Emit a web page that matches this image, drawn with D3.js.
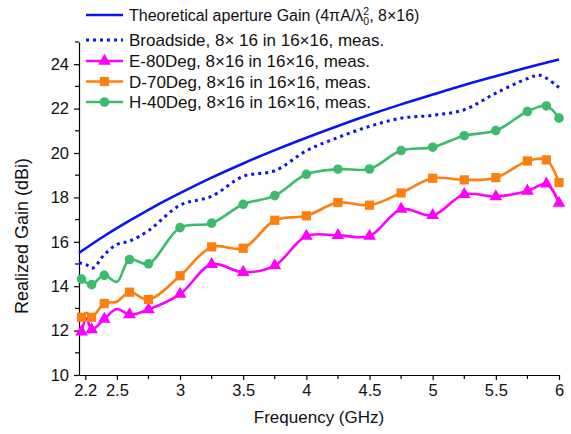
<!DOCTYPE html>
<html>
<head>
<meta charset="utf-8">
<script src="https://cdn.jsdelivr.net/npm/d3@7"></script>
<style>
  html, body { margin: 0; padding: 0; background: #fff; }
  svg { display: block; font-family: Arial, "Liberation Sans", sans-serif; }
</style>
</head>
<body>
<svg id="chart" width="571" height="434"></svg>
<script>
// ---------- data ----------
const theoFreq = [2.2, 2.4, 2.6, 2.8, 3.0, 3.25, 3.5, 3.75, 4.0, 4.25, 4.5, 4.75, 5.0, 5.25, 5.5, 5.75, 6.0];
const theoGain = [15.5, 16.26, 16.95, 17.6, 18.19, 18.89, 19.53, 20.13, 20.69, 21.22, 21.72, 22.19, 22.63, 23.06, 23.46, 23.85, 24.21];

const broadFreq = [2.2, 2.26, 2.31, 2.4, 2.5, 2.6, 2.75, 3.0, 3.25, 3.5, 3.75, 4.0, 4.25, 4.5, 4.75, 5.0, 5.25, 5.5, 5.75, 5.85, 6.0];
const broadGain = [15.06, 14.96, 14.82, 15.42, 15.88, 16.03, 16.5, 17.65, 18.05, 18.95, 19.2, 20.1, 20.7, 21.2, 21.57, 21.7, 21.95, 22.7, 23.35, 23.5, 22.95];

const measFreq = [2.22, 2.26, 2.3, 2.4, 2.5, 2.6, 2.75, 3.0, 3.25, 3.5, 3.75, 4.0, 4.25, 4.5, 4.75, 5.0, 5.25, 5.5, 5.75, 5.9, 6.0];
const markerFreq = [2.22, 2.3, 2.4, 2.6, 2.75, 3.0, 3.25, 3.5, 3.75, 4.0, 4.25, 4.5, 4.75, 5.0, 5.25, 5.5, 5.75, 5.9, 6.0];
const e80Gain = [11.95, 12.55, 12.05, 12.52, 12.97, 12.72, 12.95, 13.64, 14.99, 14.63, 14.93, 16.26, 16.29, 16.26, 17.47, 17.19, 18.14, 18.04, 18.29, 18.61, 17.74];
const d70Gain = [12.6, 12.8, 12.6, 13.22, 13.3, 13.73, 13.4, 14.47, 15.77, 15.71, 16.97, 17.17, 17.77, 17.65, 18.2, 18.86, 18.79, 18.89, 19.64, 19.69, 18.67];
const h40Gain = [14.32, 14.15, 14.07, 14.49, 14.2, 15.2, 15.01, 16.64, 16.84, 17.69, 18.08, 19.04, 19.27, 19.28, 20.11, 20.26, 20.78, 21.01, 21.87, 22.12, 21.57];

const xTickValues = [2.25, 2.5, 3, 3.5, 4, 4.5, 5, 5.5, 6];
const xTickLabels = ["2.2", "2.5", "3", "3.5", "4", "4.5", "5", "5.5", "6"];
const xMinorTicks = [2.75, 3.25, 3.75, 4.25, 4.75, 5.25, 5.75];
const yTickValues = [10, 12, 14, 16, 18, 20, 22, 24];
const yMinorTicks = [11, 13, 15, 17, 19, 21, 23, 25];

const legendLabels = [
  "Theoretical aperture Gain",
  "Broadside, 8\u00d7 16 in 16\u00d716, meas.",
  "E-80Deg, 8\u00d716 in 16\u00d716, meas.",
  "D-70Deg, 8\u00d716 in 16\u00d716, meas.",
  "H-40Deg, 8\u00d716 in 16\u00d716, meas."
];

// ---------- layout ----------
const svg = d3.select("#chart");
const x = d3.scaleLinear().domain([2.2, 6]).range([79, 559]);
const y = d3.scaleLinear().domain([10, 25]).range([375, 42]);

const BLUE = "#0a14f0", MAG = "#ff00ff", ORG = "#ff7f0e", GRN = "#3dbb6c";
const FONT = "Arial, 'Liberation Sans', sans-serif";

// axes
const xAxis = d3.axisBottom(x).tickValues(xTickValues)
  .tickFormat((d, i) => xTickLabels[i]).tickSize(5).tickSizeOuter(0);
const gx = svg.append("g").attr("transform", `translate(0,${y(10)})`).call(xAxis);
gx.selectAll(".tick line").attr("stroke", "#000").attr("stroke-width", 1.2);
gx.selectAll(".tick text").attr("font-size", 16.5).attr("fill", "#111").attr("font-family", FONT).attr("y", 9);
gx.select(".domain").attr("stroke", "#000").attr("stroke-width", 1.2);
gx.selectAll(".minor").data(xMinorTicks).enter().append("line")
  .attr("x1", d => x(d)).attr("x2", d => x(d)).attr("y1", 0).attr("y2", 4)
  .attr("stroke", "#000").attr("stroke-width", 1.2);

const yAxis = d3.axisLeft(y).tickValues(yTickValues).tickFormat(d3.format("d")).tickSize(5).tickSizeOuter(0);
const gy = svg.append("g").attr("transform", `translate(${x(2.2)},0)`).call(yAxis);
gy.selectAll(".tick line").attr("stroke", "#000").attr("stroke-width", 1.2);
gy.selectAll(".tick text").attr("font-size", 16.5).attr("fill", "#111").attr("font-family", FONT).attr("x", -10);
gy.select(".domain").attr("stroke", "#000").attr("stroke-width", 1.2);
gy.selectAll(".minor").data(yMinorTicks).enter().append("line")
  .attr("x1", -4).attr("x2", 0).attr("y1", d => y(d)).attr("y2", d => y(d))
  .attr("stroke", "#000").attr("stroke-width", 1.2);

// axis titles
svg.append("text").attr("x", 319).attr("y", 423).attr("text-anchor", "middle")
  .attr("font-size", 17).attr("fill", "#111").text("Frequency (GHz)");
svg.append("text").attr("transform", "translate(28,236) rotate(-90)").attr("text-anchor", "middle")
  .attr("font-size", 18).attr("fill", "#111").text("Realized Gain (dBi)");

// lines
const line = d3.line().x(d => x(d[0])).y(d => y(d[1])).curve(d3.curveCatmullRom.alpha(0.5));
const zip = (a, b) => a.map((v, i) => [v, b[i]]);

svg.append("path").datum(zip(theoFreq, theoGain)).attr("d", line)
  .attr("fill", "none").attr("stroke", BLUE).attr("stroke-width", 2.6);
svg.append("path").datum(zip(broadFreq, broadGain)).attr("d", line)
  .attr("fill", "none").attr("stroke", BLUE).attr("stroke-width", 3).attr("stroke-dasharray", "3,4");

const measSeries = [
  { vals: e80Gain, color: MAG, marker: "tri" },
  { vals: d70Gain, color: ORG, marker: "sq" },
  { vals: h40Gain, color: GRN, marker: "circ" }
];
function drawMarker(g, type, color, cx, cy) {
  if (type === "circ") g.append("circle").attr("cx", cx).attr("cy", cy).attr("r", 4.8).attr("fill", color);
  else if (type === "sq") g.append("rect").attr("x", cx - 4.6).attr("y", cy - 4.6).attr("width", 9.2).attr("height", 9.2).attr("fill", color);
  else g.append("path").attr("d", d3.symbol(d3.symbolTriangle, 70)()).attr("transform", `translate(${cx},${cy})`).attr("fill", color);
}
measSeries.forEach(s => {
  const pts = zip(measFreq, s.vals);
  svg.append("path").datum(pts).attr("d", line)
    .attr("fill", "none").attr("stroke", s.color).attr("stroke-width", 2.6);
  const g = svg.append("g");
  pts.filter(p => markerFreq.includes(p[0])).forEach(p => drawMarker(g, s.marker, s.color, x(p[0]), y(p[1])));
});

// legend
const legRows = [15, 40, 61, 81.5, 102];
const lg = svg.append("g");
legRows.forEach((ry, i) => {
  if (i === 1) {
    lg.append("line").attr("x1", 86).attr("x2", 123).attr("y1", ry).attr("y2", ry)
      .attr("stroke", BLUE).attr("stroke-width", 3).attr("stroke-dasharray", "3,4");
  } else {
    const col = [BLUE, null, MAG, ORG, GRN][i];
    lg.append("line").attr("x1", 86).attr("x2", 123).attr("y1", ry).attr("y2", ry)
      .attr("stroke", col).attr("stroke-width", 2.6);
    if (i >= 2) drawMarker(lg, ["", "", "tri", "sq", "circ"][i], col, 104.5, ry);
  }
  const t = lg.append("text").attr("x", 129).attr("y", ry + 6).attr("font-size", i === 0 ? 16 : 17).attr("fill", "#111");
  if (i === 0) {
    t.append("tspan").text("Theoretical aperture Gain (4\u03c0A/\u03bb");
    t.append("tspan").attr("font-size", 10.5).attr("dy", -6.5).text("2");
    t.append("tspan").attr("font-size", 10.5).attr("dx", -5.8).attr("dy", 10.5).text("0");
    t.append("tspan").attr("dy", -4).text(", 8\u00d716)");
  } else {
    t.text(legendLabels[i]);
  }
});
</script>
</body>
</html>
